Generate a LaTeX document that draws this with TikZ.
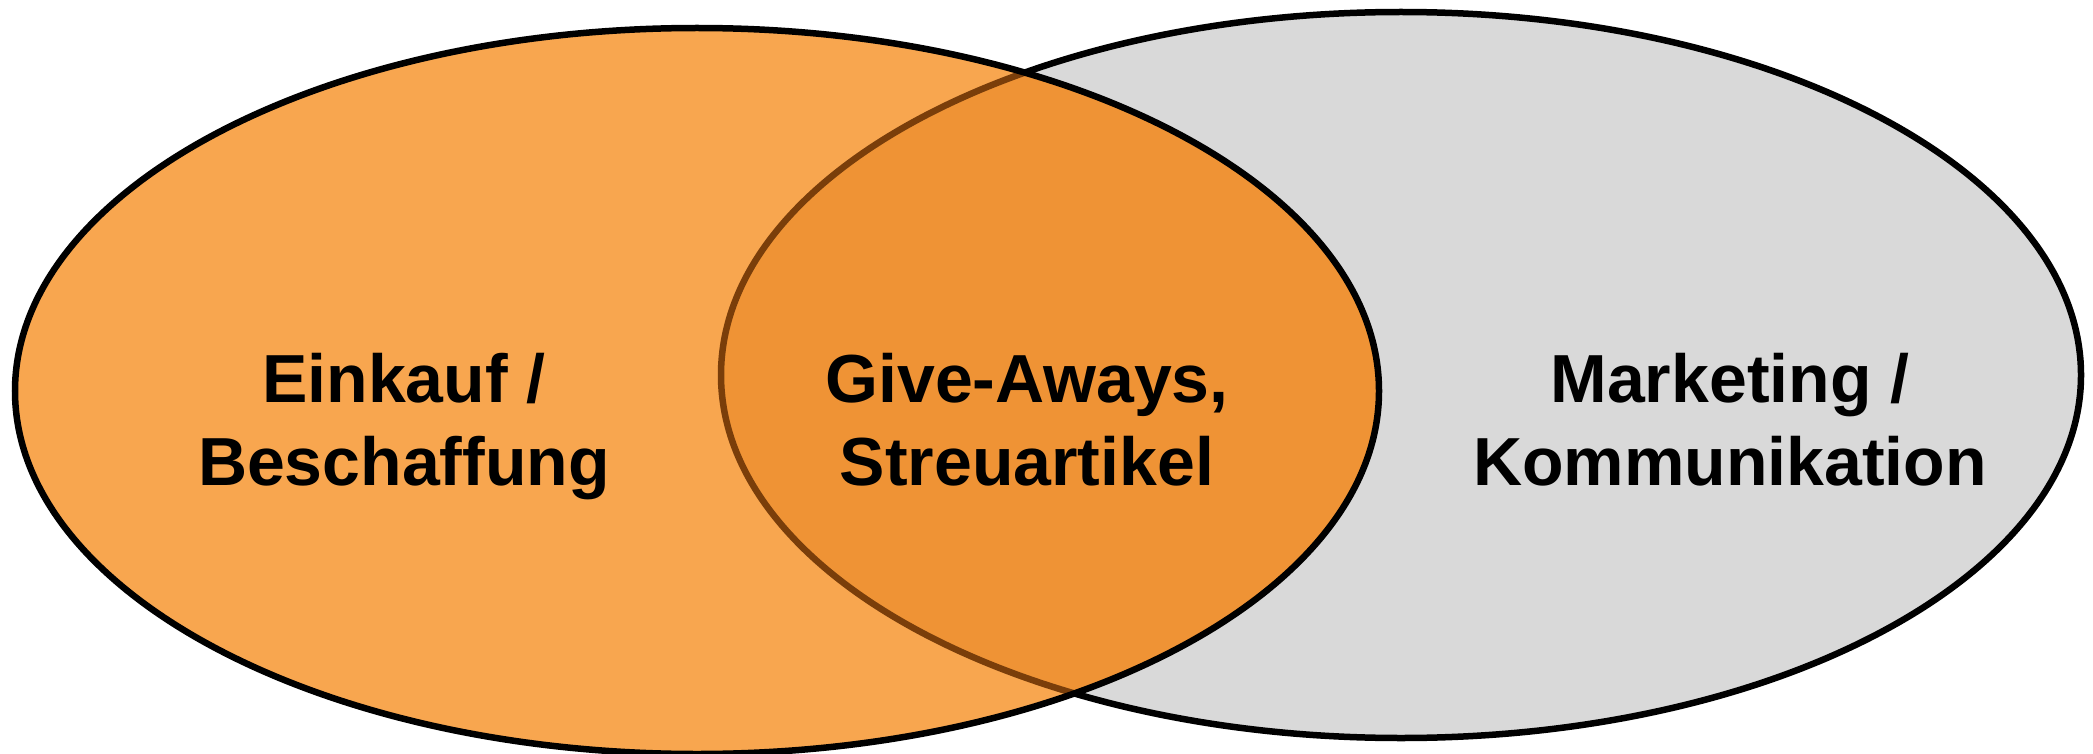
\documentclass[tikz,border=0pt]{standalone}
\usepackage{fontspec}
\setmainfont{Liberation Sans}
\definecolor{greyfill}{HTML}{D9D9D9}
\definecolor{orangelight}{HTML}{F8A64F}
\definecolor{orangedark}{HTML}{EF9335}
\definecolor{edgebrown}{HTML}{7A3E0A}
\begin{document}
\begin{tikzpicture}[x=1pt,y=-1pt,
  outline/.style={line width=6.5pt},
  label/.style={anchor=base,inner sep=0pt,font=\fontsize{68}{83}\selectfont\bfseries}]
\useasboundingbox (0,0) rectangle (2093,754);
\def\leftset{(697,391) ellipse [x radius=682pt, y radius=363pt]}
\def\rightset{(1401,375) ellipse [x radius=680pt, y radius=363pt]}
% fills
\fill[greyfill] \rightset;
\fill[orangelight] \leftset;
\begin{scope}
  \clip \leftset;
  \fill[orangedark] \rightset;
  \draw[outline,edgebrown] \rightset;
\end{scope}
% outlines: right set only outside the left one
\begin{scope}[even odd rule]
  \clip (-20,-20) rectangle (2113,774) \leftset;
  \draw[outline] \rightset;
\end{scope}
\draw[outline] \leftset;
% labels
\node[label] (einkauf) at (404,402) {Einkauf /};
\node[label] (beschaffung) at (404,485) {Beschaffung};
\node[label] (giveaways) at (1027,402) {Give-Aways,};
\node[label] (streuartikel) at (1027,485) {Streuartikel};
\node[label] (marketing) at (1730,402) {Marketing /};
\node[label] (kommunikation) at (1730,485) {Kommunikation};
\end{tikzpicture}
\end{document}
